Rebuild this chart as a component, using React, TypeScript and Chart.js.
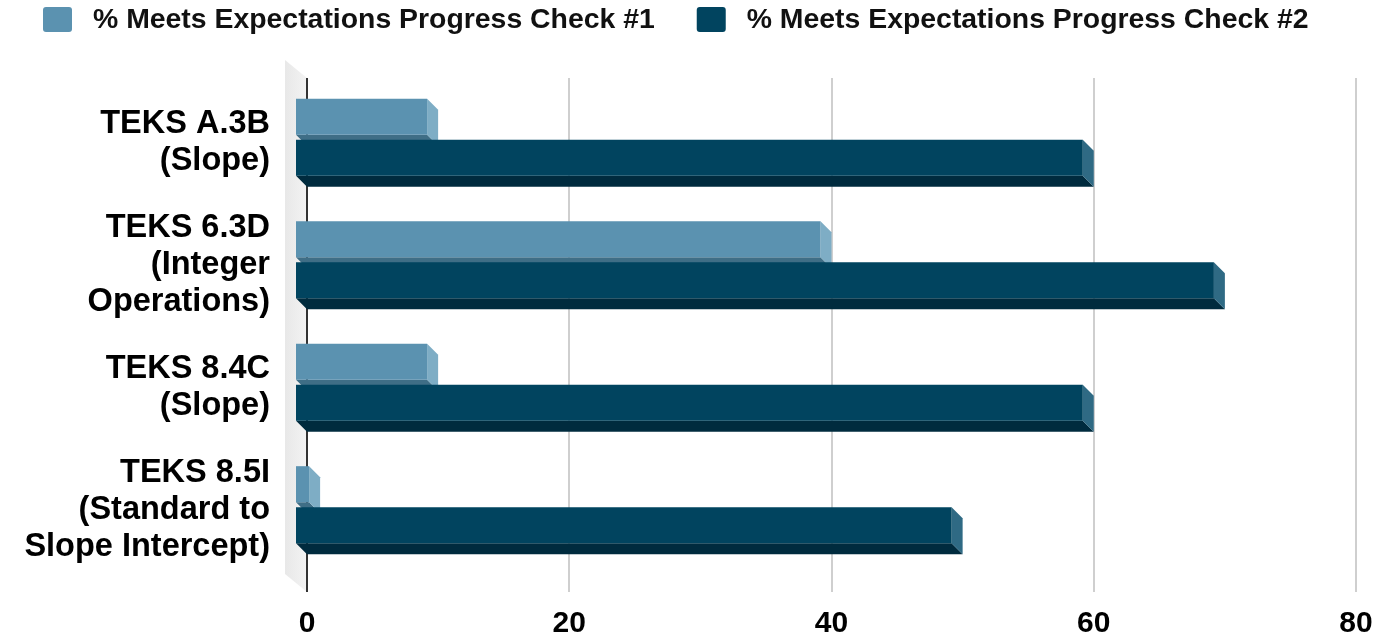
import React, { useEffect, useRef } from "react";
import { Chart, registerables } from "chart.js";

Chart.register(...registerables);

const categories: string[][] = [
  ["TEKS A.3B", "(Slope)"],
  ["TEKS 6.3D", "(Integer", "Operations)"],
  ["TEKS 8.4C", "(Slope)"],
  ["TEKS 8.5I", "(Standard to", "Slope Intercept)"],
];
const seriesNames = [
  "% Meets Expectations Progress Check #1",
  "% Meets Expectations Progress Check #2",
];
const check1 = [10, 40, 10, 1];
const check2 = [60, 70, 60, 50];
const xTicks = [0, 20, 40, 60, 80];

const FONT = "'Liberation Sans', Arial, sans-serif";
const DX = 11;
const DY = 11;

const threeD = {
  id: "threeD",
  beforeDraw(chart: any) {
    const { ctx, chartArea } = chart;
    const xs = chart.scales.x;
    const top = chartArea.top - 9;
    const bottom = chartArea.bottom + 15;
    const x0 = xs.getPixelForValue(0);
    ctx.save();
    const g = ctx.createLinearGradient(x0 - 22, 0, x0, 0);
    g.addColorStop(0, "#e8e8e8");
    g.addColorStop(1, "#f3f3f3");
    ctx.fillStyle = g;
    ctx.beginPath();
    ctx.moveTo(x0 - 22, top - 18);
    ctx.lineTo(x0, top);
    ctx.lineTo(x0, bottom);
    ctx.lineTo(x0 - 22, bottom - 18);
    ctx.closePath();
    ctx.fill();
    xTicks.forEach((v) => {
      const px = Math.round(xs.getPixelForValue(v));
      ctx.strokeStyle = v === 0 ? "#333333" : "#cfcfcf";
      ctx.lineWidth = 2;
      ctx.beginPath();
      ctx.moveTo(px, top);
      ctx.lineTo(px, bottom);
      ctx.stroke();
    });
    ctx.restore();
  },
  beforeDatasetsDraw(chart: any) {
    const { ctx } = chart;
    ctx.save();
    ctx.translate(-DX, -DY);
    chart.data.datasets.forEach((ds: any, i: number) => {
      const meta = chart.getDatasetMeta(i);
      meta.data.forEach((bar: any) => {
        const left = Math.min(bar.x, bar.base);
        const right = Math.max(bar.x, bar.base);
        const t = bar.y - bar.height / 2;
        const b = bar.y + bar.height / 2;
        ctx.fillStyle = ds.bottomColor;
        ctx.beginPath();
        ctx.moveTo(left, b);
        ctx.lineTo(right, b);
        ctx.lineTo(right + DX, b + DY);
        ctx.lineTo(left + DX, b + DY);
        ctx.closePath();
        ctx.fill();
        ctx.fillStyle = ds.sideColor;
        ctx.beginPath();
        ctx.moveTo(right, t);
        ctx.lineTo(right + DX, t + DY);
        ctx.lineTo(right + DX, b + DY);
        ctx.lineTo(right, b);
        ctx.closePath();
        ctx.fill();
      });
    });
  },
  afterDatasetsDraw(chart: any) {
    chart.ctx.restore();
  },
  afterDraw(chart: any) {
    const { ctx } = chart;
    ctx.save();
    ctx.font = `bold 28.4px ${FONT}`;
    ctx.textBaseline = "middle";
    ctx.textAlign = "left";
    let x = 43;
    chart.data.datasets.forEach((ds: any) => {
      ctx.fillStyle = ds.backgroundColor;
      ctx.beginPath();
      (ctx as any).roundRect(x, 7, 29, 25, 3);
      ctx.fill();
      ctx.fillStyle = "#111111";
      ctx.fillText(ds.label, x + 50, 20);
      x += 50 + ctx.measureText(ds.label).width + 42;
    });
    ctx.restore();
  },
};

export default function App() {
  const ref = useRef<HTMLCanvasElement>(null);
  useEffect(() => {
    if (!ref.current) return;
    const chart = new Chart(ref.current, {
      type: "bar",
      data: {
        labels: categories,
        datasets: [
          {
            label: seriesNames[0],
            data: check1,
            backgroundColor: "#5b92b0",
            sideColor: "#7eadc5",
            bottomColor: "#3f6e86",
            barPercentage: 0.878,
            categoryPercentage: 0.6705,
            clip: false,
          } as any,
          {
            label: seriesNames[1],
            data: check2,
            backgroundColor: "#01445f",
            sideColor: "#2f6a84",
            bottomColor: "#002b3e",
            barPercentage: 0.878,
            categoryPercentage: 0.6705,
            clip: false,
          } as any,
        ],
      },
      options: {
        indexAxis: "y",
        responsive: false,
        animation: false,
        layout: { padding: { top: 87, right: 27, left: 0, bottom: 0 } },
        plugins: { legend: { display: false }, tooltip: { enabled: false } },
        scales: {
          x: {
            min: 0,
            max: 80,
            border: { display: false },
            grid: { display: false, drawTicks: false },
            afterFit: (s: any) => {
              s.height = 62;
              s.paddingLeft = 0;
              s.paddingRight = 0;
              s.paddingTop = 0;
              s.paddingBottom = 0;
            },
            afterBuildTicks: (s: any) => {
              s.ticks = xTicks.map((v) => ({ value: v }));
            },
            ticks: {
              padding: 29,
              color: "#000000",
              font: { family: FONT, size: 30, weight: "bold" },
            },
          },
          y: {
            border: { display: false },
            grid: { display: false, drawTicks: false },
            afterFit: (s: any) => {
              s.width = 307;
              s.paddingLeft = 0;
              s.paddingRight = 0;
              s.paddingTop = 0;
              s.paddingBottom = 0;
            },
            ticks: {
              padding: 37,
              labelOffset: -6,
              color: "#000000",
              font: { family: FONT, size: 32.5, weight: "bold", lineHeight: 1.14 },
            },
          },
        },
      },
      plugins: [threeD],
    });
    return () => chart.destroy();
  }, []);
  return (
    <div style={{ position: "absolute", left: 0, top: 0, width: 1383, height: 639, background: "#ffffff" }}>
      <canvas ref={ref} width={1383} height={639} />
    </div>
  );
}
